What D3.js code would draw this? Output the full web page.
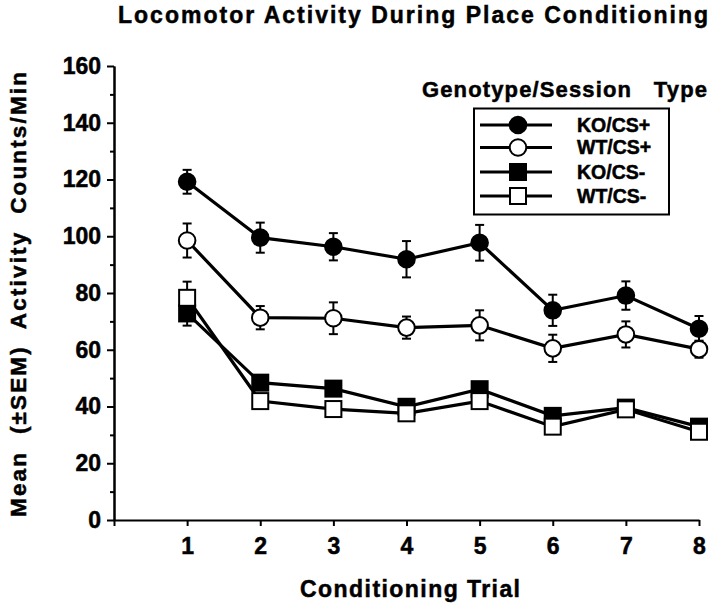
<!DOCTYPE html>
<html>
<head>
<meta charset="utf-8">
<script src="https://cdn.jsdelivr.net/npm/d3@7"></script>
<style>
  html, body { margin: 0; padding: 0; background: #fff; }
  svg { display: block; }
  text { font-family: "Liberation Sans", Arial, Helvetica, sans-serif; font-weight: bold; fill: #000; stroke: #000; stroke-width: 0.5px; }
</style>
</head>
<body>
<svg id="chart" width="720" height="605"></svg>
<script>
// ---- data ----
const trials = [1, 2, 3, 4, 5, 6, 7, 8];
const seriesNames = ["KO/CS+", "WT/CS+", "KO/CS-", "WT/CS-"];
const koCSplus = [119.2, 99.5, 96.3, 91.9, 97.7, 73.9, 79.1, 67.4];
const koCSplusSem = [4.2, 5.3, 4.8, 6.4, 6.3, 5.5, 5.0, 4.5];
const wtCSplus = [98.5, 71.3, 71.1, 67.8, 68.6, 60.5, 65.4, 60.2];
const wtCSplusSem = [6.0, 4.1, 5.6, 3.9, 5.3, 4.8, 4.6, 3.0];
const koCSminus = [72.8, 48.4, 46.3, 39.9, 46.1, 36.7, 39.6, 32.9];
const koCSminusSem = [4.3, 2.0, 1.5, 1.5, 1.5, 1.5, 2.7, 1.5];
const wtCSminus = [78.3, 41.9, 39.1, 37.6, 41.9, 32.9, 39.0, 31.1];
const wtCSminusSem = [5.7, 1.5, 1.5, 1.5, 1.5, 1.5, 1.5, 1.5];
const yTicks = [0, 20, 40, 60, 80, 100, 120, 140, 160];
const yMinorTicks = [10, 30, 50, 70, 90, 110, 130, 150];
const xTicks = [0, 1, 2, 3, 4, 5, 6, 7, 8];
const titleText = "Locomotor Activity During Place Conditioning";
const xTitle = "Conditioning Trial";
const yTitle = "Mean  (\u00B1SEM)  Activity  Counts/Min";
const legendTitle = "Genotype/Session   Type";

const series = [
  { name: seriesNames[0], values: koCSplus, sem: koCSplusSem, shape: "circle", fill: "#000" },
  { name: seriesNames[1], values: wtCSplus, sem: wtCSplusSem, shape: "circle", fill: "#fff" },
  { name: seriesNames[2], values: koCSminus, sem: koCSminusSem, shape: "square", fill: "#000" },
  { name: seriesNames[3], values: wtCSminus, sem: wtCSminusSem, shape: "square", fill: "#fff" }
];

// ---- layout ----
const svg = d3.select("#chart");
const x = d3.scaleLinear().domain([0, 8]).range([114, 699]);
const y = d3.scaleLinear().domain([0, 160]).range([520, 66]);

// title
svg.append("text")
  .attr("x", 118).attr("y", 23)
  .attr("font-size", 23)
  .attr("textLength", 590).attr("lengthAdjust", "spacing")
  .style("white-space", "pre")
  .text(titleText);

// axes
const yAxis = d3.axisLeft(y).tickValues(yTicks).tickSize(7).tickSizeOuter(0).tickPadding(6);
const yMinor = d3.axisLeft(y).tickValues(yMinorTicks).tickSize(4).tickSizeOuter(0).tickFormat("");
const xAxis = d3.axisBottom(x).tickValues(xTicks).tickSize(6).tickSizeOuter(0).tickPadding(12)
  .tickFormat(d => d === 0 ? "" : d);

const gy = svg.append("g").attr("transform", "translate(114,0)").call(yAxis);
svg.append("g").attr("transform", "translate(114,0)").call(yMinor);
const gx = svg.append("g").attr("transform", "translate(0,520)").call(xAxis);

svg.selectAll(".domain").attr("stroke", "#000").attr("stroke-width", 2);
svg.selectAll(".tick line").attr("stroke", "#000").attr("stroke-width", 2);
[gy, gx].forEach(g => g.selectAll(".tick text")
  .attr("font-size", 23)
  .attr("font-family", "Liberation Sans, Arial, sans-serif")
  .attr("font-weight", "bold")
  .attr("fill", "#000"));

// axis titles
svg.append("text")
  .attr("x", 300).attr("y", 597)
  .attr("font-size", 23)
  .attr("textLength", 220).attr("lengthAdjust", "spacing")
  .style("white-space", "pre")
  .text(xTitle);

svg.append("text")
  .attr("transform", "translate(26,517) rotate(-90)")
  .attr("x", 0).attr("y", 0)
  .attr("font-size", 22.5)
  .attr("textLength", 445).attr("lengthAdjust", "spacing")
  .style("white-space", "pre")
  .text(yTitle);

// series
const line = d3.line().x((d, i) => x(trials[i])).y(d => y(d));
const r = 8.3, sq = 16;

function drawMarker(g, shape, fill, cx, cy) {
  if (shape === "circle") {
    g.append("circle").attr("cx", cx).attr("cy", cy).attr("r", r)
      .attr("fill", fill).attr("stroke", "#000").attr("stroke-width", 2);
  } else {
    g.append("rect").attr("x", cx - sq / 2).attr("y", cy - sq / 2)
      .attr("width", sq).attr("height", sq)
      .attr("fill", fill).attr("stroke", "#000").attr("stroke-width", 2);
  }
}

series.forEach(s => {
  const g = svg.append("g");
  s.values.forEach((v, i) => {
    const cx = x(trials[i]);
    const top = y(v + s.sem[i]), bot = y(v - s.sem[i]);
    g.append("line").attr("x1", cx).attr("x2", cx).attr("y1", top).attr("y2", bot)
      .attr("stroke", "#000").attr("stroke-width", 2);
    [top, bot].forEach(yy => g.append("line")
      .attr("x1", cx - 4.5).attr("x2", cx + 4.5).attr("y1", yy).attr("y2", yy)
      .attr("stroke", "#000").attr("stroke-width", 2));
  });
  g.append("path").datum(s.values).attr("d", line)
    .attr("fill", "none").attr("stroke", "#000").attr("stroke-width", 3.2);
  s.values.forEach((v, i) => drawMarker(g, s.shape, s.fill, x(trials[i]), y(v)));
});

// legend
svg.append("text")
  .attr("x", 422).attr("y", 97)
  .attr("font-size", 22)
  .attr("textLength", 285).attr("lengthAdjust", "spacing")
  .style("white-space", "pre")
  .text(legendTitle);

svg.append("rect").attr("x", 474).attr("y", 108.5).attr("width", 195).attr("height", 106)
  .attr("fill", "none").attr("stroke", "#000").attr("stroke-width", 2);

const legY = [125, 147.5, 172, 196];
series.forEach((s, i) => {
  const g = svg.append("g");
  g.append("line").attr("x1", 480).attr("x2", 552).attr("y1", legY[i]).attr("y2", legY[i])
    .attr("stroke", "#000").attr("stroke-width", 3.2);
  drawMarker(g, s.shape, s.fill, 518, legY[i]);
  g.append("text").attr("x", 577).attr("y", legY[i] + 6.5)
    .attr("font-size", 19.5).attr("stroke-width", 0.3).text(s.name);
});
</script>
</body>
</html>
